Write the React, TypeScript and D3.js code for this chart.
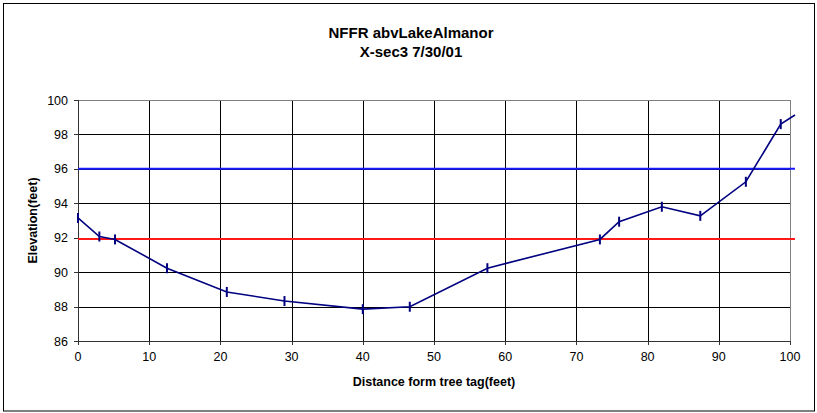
import React from "react";
import * as d3 from "d3";

const distances = [0, 3.0, 5.2, 12.5, 20.9, 29.0, 40.0, 46.6, 57.5, 73.3, 76.0, 82.0, 87.4, 93.8, 98.7, 100.7];
const elevations = [93.15, 92.07, 91.9, 90.23, 88.85, 88.32, 87.85, 87.99, 90.23, 91.9, 92.93, 93.8, 93.27, 95.25, 98.6, 99.13];
const blueLevel = [96.0];
const redLevel = [91.92];
const xTicks = [0, 10, 20, 30, 40, 50, 60, 70, 80, 90, 100];
const yTicks = [86, 88, 90, 92, 94, 96, 98, 100];
const titleLines = ["NFFR abvLakeAlmanor", "X-sec3 7/30/01"];
const xTitle = "Distance form tree tag(feet)";
const yTitle = "Elevation(feet)";

export default function App() {
  const W = 817, H = 413;
  const left = 78, right = 790, top = 100, bottom = 341;
  const x = d3.scaleLinear().domain([0, 100]).range([left, right]);
  const y = d3.scaleLinear().domain([86, 100]).range([bottom, top]);
  const pts = distances.map((d, i) => [d, elevations[i]] as [number, number]);
  const line = d3.line<[number, number]>().x(d => x(d[0])).y(d => y(d[1]));
  const font = "'Liberation Sans', Arial, sans-serif";
  const lineEnd = x(100.7);

  return (
    <svg width={W} height={H} style={{ position: "absolute", left: 0, top: 0, background: "#fff" }} fontFamily={font}>
      <rect x={0} y={0} width={W} height={H} fill="#fff" />
      <rect x={3.5} y={3.5} width={811} height={407.5} fill="none" stroke="#000" strokeWidth={1} />
      {titleLines.map((t, i) => (
        <text key={t} x={411} y={38 + i * 19} textAnchor="middle" fontSize={15} fontWeight="bold">{t}</text>
      ))}
      {/* grid */}
      {yTicks.map(v => (
        <line key={"gy" + v} x1={left} x2={right} y1={Math.round(y(v)) + 0.5} y2={Math.round(y(v)) + 0.5} stroke="#000" strokeWidth={1} />
      ))}
      {xTicks.map(v => (
        <line key={"gx" + v} x1={Math.round(x(v)) + 0.5} x2={Math.round(x(v)) + 0.5} y1={top} y2={bottom} stroke="#000" strokeWidth={1} />
      ))}
      {/* plot border */}
      <rect x={left + 0.5} y={top + 0.5} width={right - left} height={bottom - top} fill="none" stroke="#808080" strokeWidth={1} />
      {/* axes */}
      <line x1={left + 0.5} x2={left + 0.5} y1={top} y2={bottom + 1} stroke="#333" strokeWidth={1} />
      <line x1={left} x2={right + 1} y1={Math.round(y(86)) + 0.5} y2={Math.round(y(86)) + 0.5} stroke="#333" strokeWidth={1} />
      {yTicks.map(v => (
        <line key={"ty" + v} x1={left - 4} x2={left} y1={Math.round(y(v)) + 0.5} y2={Math.round(y(v)) + 0.5} stroke="#333" />
      ))}
      {xTicks.map(v => (
        <line key={"tx" + v} x1={Math.round(x(v)) + 0.5} x2={Math.round(x(v)) + 0.5} y1={bottom} y2={bottom + 4} stroke="#333" />
      ))}
      {yTicks.map(v => (
        <text key={"ly" + v} x={68} y={y(v) + 4.5} textAnchor="end" fontSize={12.5}>{v}</text>
      ))}
      {xTicks.map(v => (
        <text key={"lx" + v} x={x(v)} y={361} textAnchor="middle" fontSize={12.5}>{v}</text>
      ))}
      {/* reference lines */}
      {blueLevel.map((v, i) => (
        <line key={"b" + i} x1={left} x2={lineEnd} y1={y(v)} y2={y(v)} stroke="#1a1aff" strokeWidth={2} />
      ))}
      {redLevel.map((v, i) => (
        <line key={"r" + i} x1={left} x2={lineEnd} y1={y(v)} y2={y(v)} stroke="#ff1a1a" strokeWidth={2} />
      ))}
      {/* data */}
      <path d={line(pts) || ""} fill="none" stroke="#000080" strokeWidth={1.6} />
      {pts.slice(0, pts.length - 1).map((p, i) => (
        <line key={"m" + i} x1={x(p[0])} x2={x(p[0])} y1={y(p[1]) - 5} y2={y(p[1]) + 5} stroke="#000080" strokeWidth={2} />
      ))}
      <text x={(left + right) / 2} y={386} textAnchor="middle" fontSize={12.5} fontWeight="bold">{xTitle}</text>
      <text transform={`translate(37,${(top + bottom) / 2}) rotate(-90)`} textAnchor="middle" fontSize={12.5} fontWeight="bold">{yTitle}</text>
    </svg>
  );
}
